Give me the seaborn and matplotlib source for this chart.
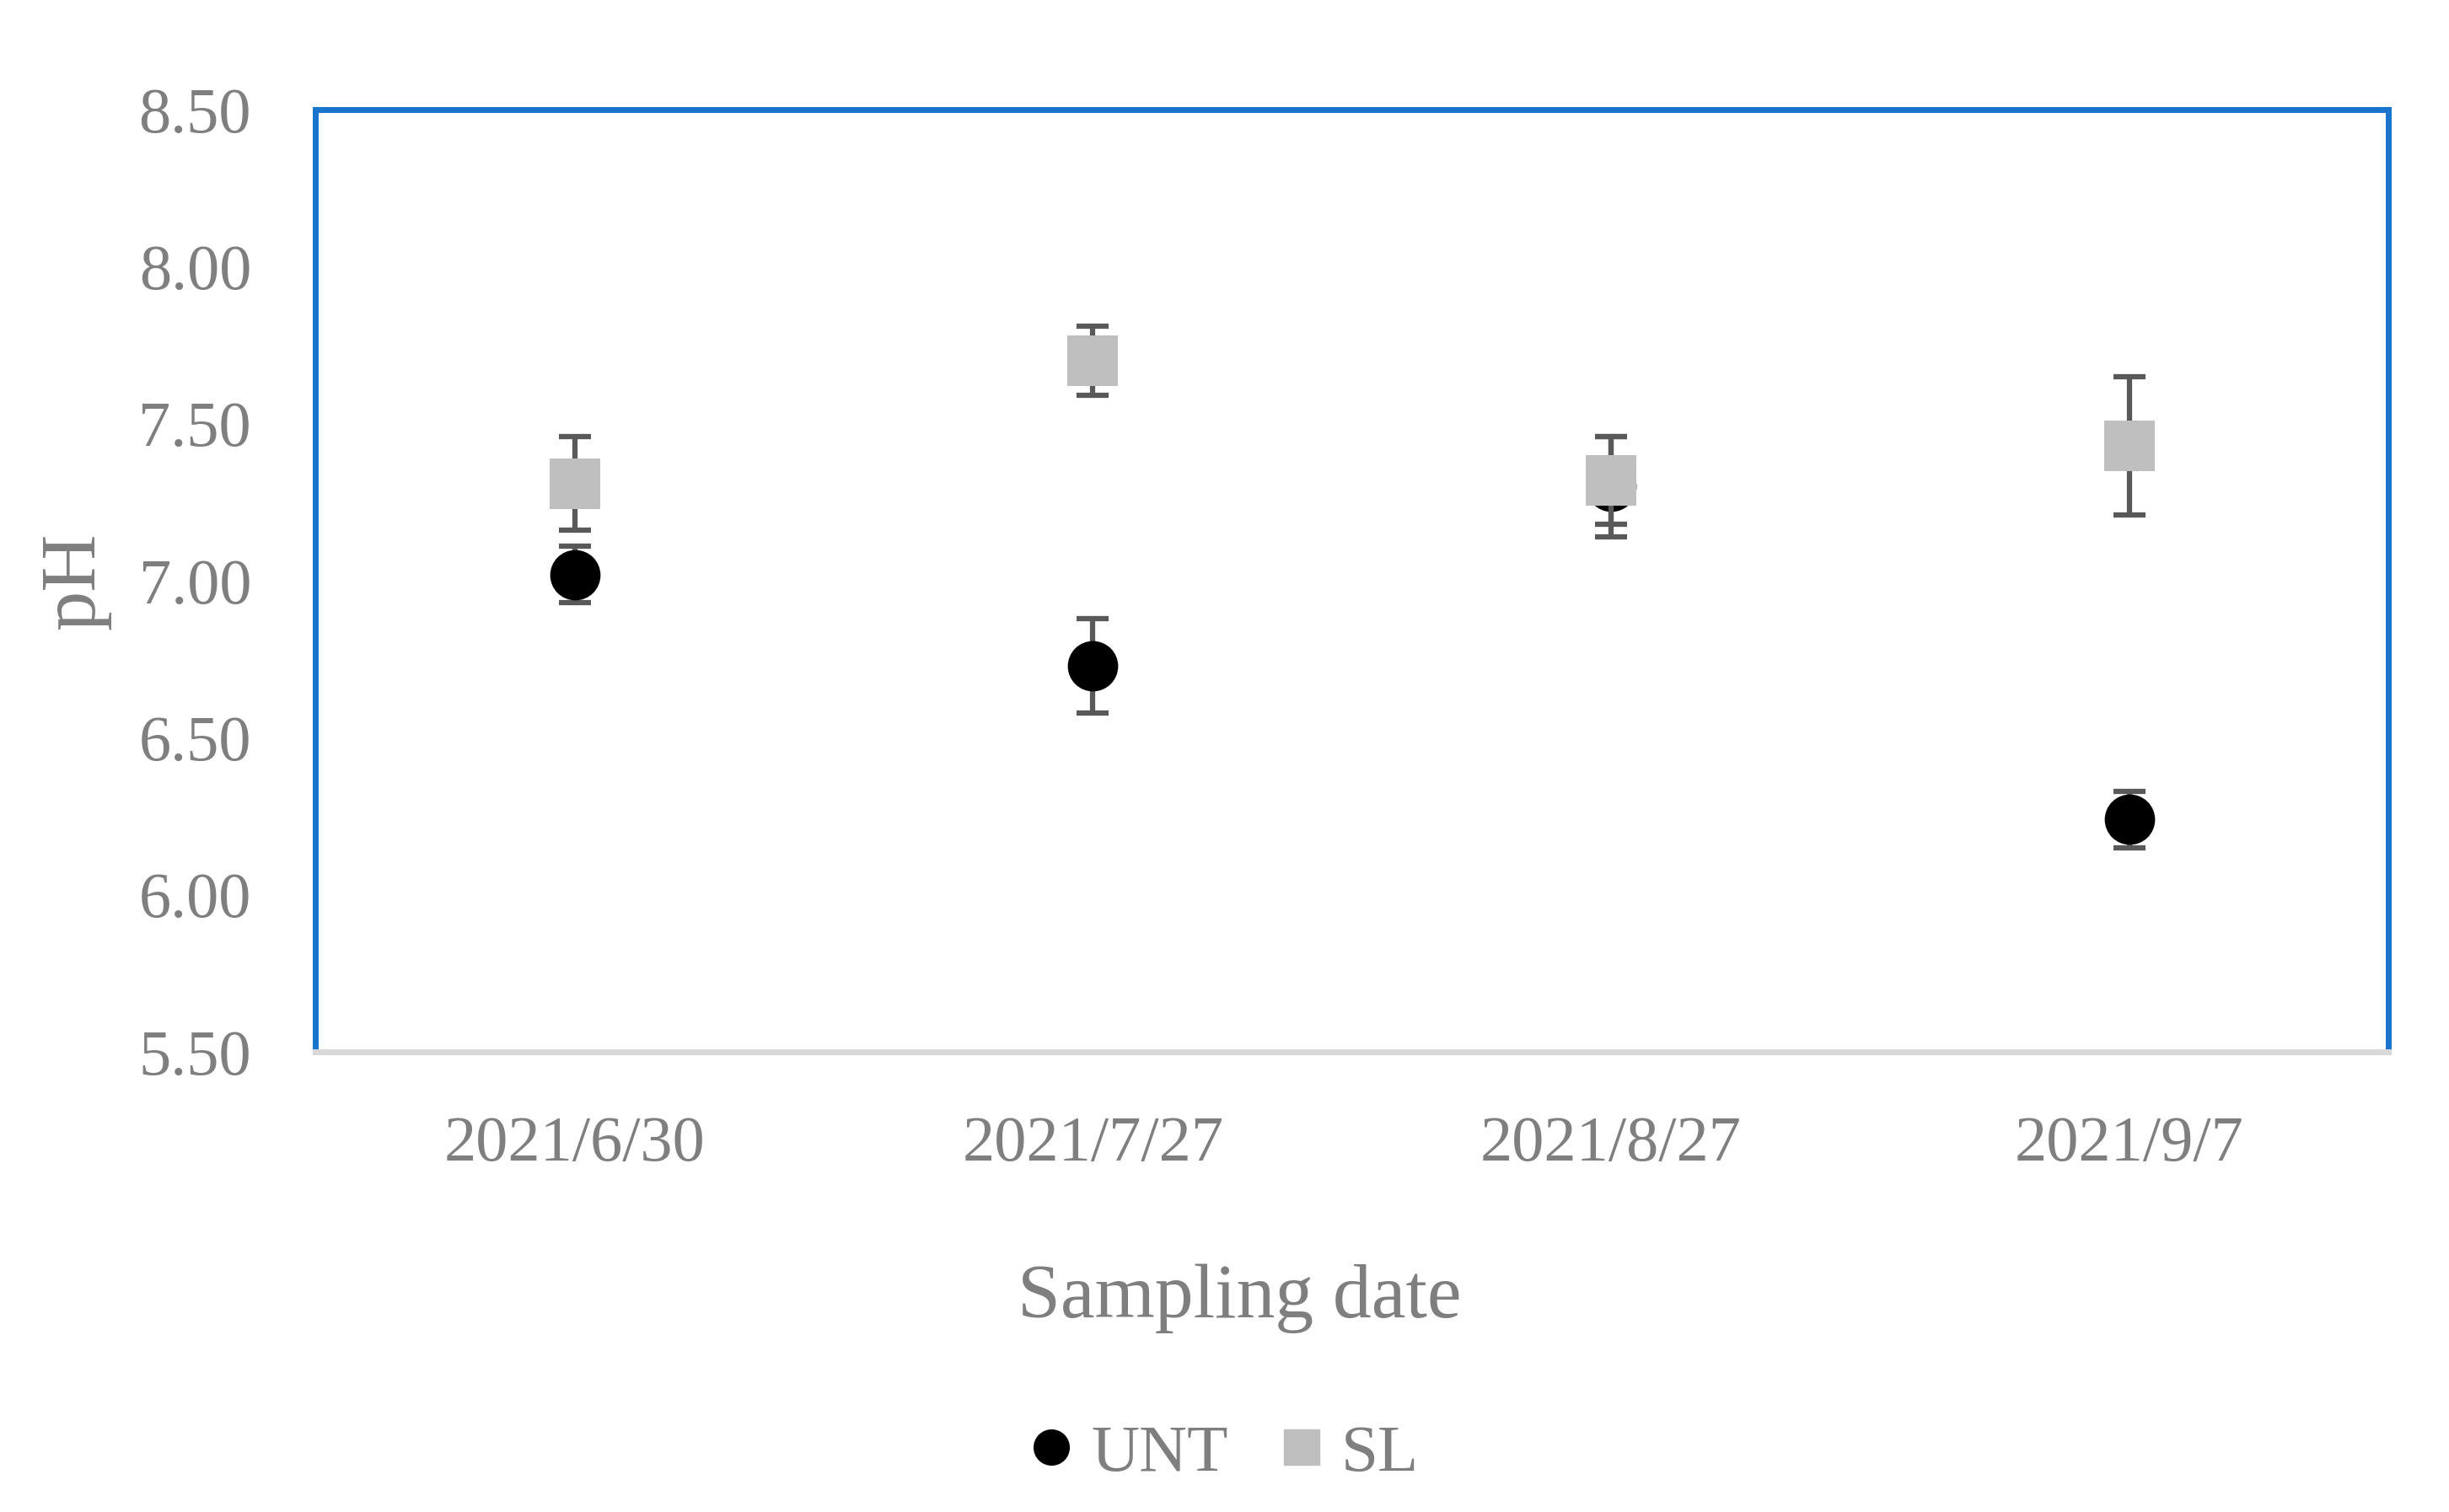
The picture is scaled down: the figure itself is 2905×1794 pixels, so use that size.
import pandas as pd
import matplotlib.pyplot as plt
import seaborn as sns
from matplotlib.lines import Line2D

# Sampling dates and pH means / error bars
dates = ['2021/6/30', '2021/7/27', '2021/8/27', '2021/9/7']
unt_ph = [7.02, 6.73, 7.30, 6.24]
unt_err = [0.09, 0.15, 0.16, 0.09]
sl_ph = [7.31, 7.70, 7.32, 7.43]
sl_err = [0.15, 0.11, 0.14, 0.22]

y_ticks = [5.5, 6.0, 6.5, 7.0, 7.5, 8.0, 8.5]

df = pd.DataFrame({
    'date': dates * 2,
    'pH': unt_ph + sl_ph,
    'err': unt_err + sl_err,
    'treatment': ['UNT'] * 4 + ['SL'] * 4,
})

sns.set_theme(style='white')
plt.rcParams['font.family'] = ['Liberation Serif', 'DejaVu Serif']
text_color = '#7F7F7F'

fig = plt.figure(figsize=(29.05, 17.94), dpi=100)
ax = fig.add_axes([0.1289, 0.3043, 0.8463, 0.6232])

colors = {'UNT': 'black', 'SL': '#BFBFBF'}
markers = {'UNT': 'o', 'SL': 's'}

# Draw UNT first so SL squares sit on top
for i, name in enumerate(['UNT', 'SL']):
    sub = df[df['treatment'] == name]
    ax.errorbar(sub['date'], sub['pH'], yerr=sub['err'], fmt='none',
                ecolor='#595959', elinewidth=4.5, capsize=14, capthick=4.5,
                zorder=2 + 2 * i)
    sns.scatterplot(data=sub, x='date', y='pH', marker=markers[name],
                    color=colors[name], s=1849, linewidth=0, ax=ax,
                    zorder=3 + 2 * i, legend=False)

ax.set_xlim(-0.5, 3.5)
ax.set_ylim(5.5, 8.5)
ax.set_yticks(y_ticks)
ax.set_yticklabels([f'{v:.2f}' for v in y_ticks])
ax.tick_params(axis='both', length=0, labelsize=55, colors=text_color)
ax.tick_params(axis='y', pad=55)
ax.tick_params(axis='x', pad=55)
ax.set_xlabel('')
ax.set_ylabel('pH', fontsize=68, color=text_color, labelpad=24)

for side in ['top', 'left', 'right']:
    ax.spines[side].set_color('#1874CC')
    ax.spines[side].set_linewidth(5)
ax.spines['bottom'].set_color('#D9D9D9')
ax.spines['bottom'].set_linewidth(5)

fig.text(0.506, 0.141, 'Sampling date', fontsize=66, color=text_color,
         ha='center', va='center')

handles = [
    Line2D([], [], marker='o', color='black', linestyle='none', markersize=30),
    Line2D([], [], marker='s', color='#BFBFBF', linestyle='none', markersize=30),
]
fig.legend(handles, ['UNT', 'SL'], loc='center', bbox_to_anchor=(0.4975, 0.038),
           ncol=2, frameon=False, fontsize=57, labelcolor=text_color,
           handletextpad=0.1, columnspacing=0.6, handlelength=1.0)

fig.savefig('out.png', dpi=100, facecolor='white')
